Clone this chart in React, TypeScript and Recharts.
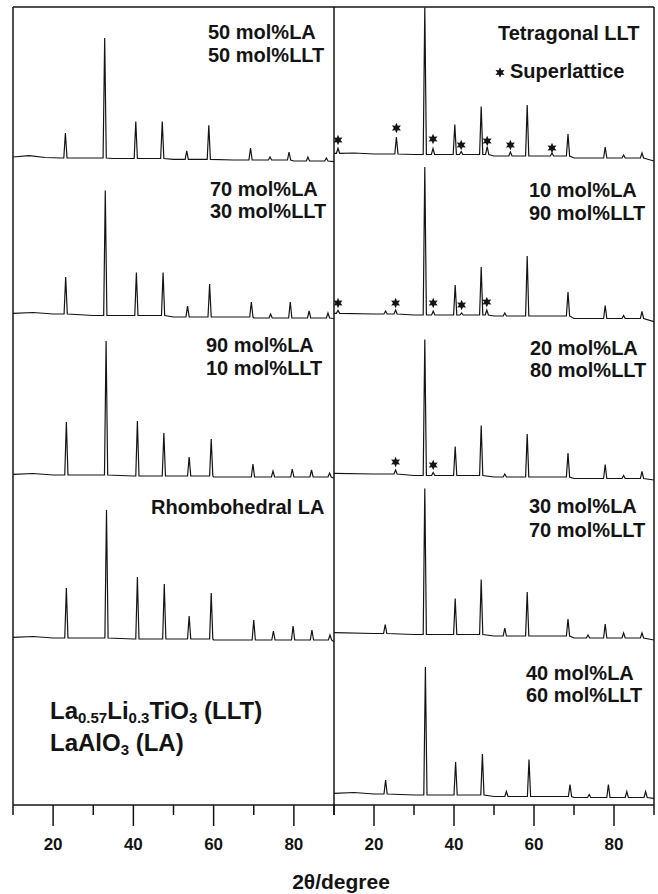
import { ComposedChart, Line, ReferenceLine, Scatter, XAxis, YAxis } from "recharts";

// 2θ range and tick marks (major ticks carry labels)
const X_DOMAIN: [number, number] = [10, 90];
const X_TICKS = [10, 20, 30, 40, 50, 60, 70, 80, 90];
const Y_DOMAIN: [number, number] = [0, 798];

// left column: LA-rich samples, offset of each trace (a.u.)
const LEFT_OFFSETS = [646, 489, 329, 166];

const base5050 = [[10, 2], [14, 3.3], [18, 1.5], [22, 1], [35, 0.5], [50, -0.3], [65, -1], [80, -2], [90, -2.7]];
const peaks5050 = [[23.06, 25], [32.85, 120], [40.6, 37], [47.2, 37], [53.3, 8.5], [58.8, 34], [69.2, 12], [74.05, 3], [78.8, 8], [83.5, 4], [88.1, 3]];

const base7030 = [[10, 2.7], [15, 3.5], [20, 2], [30, 0.5], [50, -1], [70, -2], [90, -2.5]];
const peaks7030 = [[23.13, 37], [33.0, 125], [40.75, 43], [47.4, 43], [53.5, 11], [59.0, 33], [69.4, 15], [74.2, 4], [79.1, 16], [83.8, 7], [88.5, 5]];

const base9010 = [[10, 1.7], [15, 2.5], [20, 1], [40, 0], [60, -1], [90, -2.3]];
const peaks9010 = [[23.3, 53], [33.2, 134], [41.0, 55], [47.6, 43], [53.9, 19], [59.4, 37], [69.8, 13], [74.8, 6], [79.6, 8], [84.4, 7], [88.9, 4]];

const baseLA = [[10, 1.7], [15, 2.5], [20, 1], [40, 0], [60, -1], [90, -2.7]];
const peaksLA = [[23.3, 50], [33.3, 128], [41.0, 62], [47.7, 55], [53.9, 23], [59.4, 46], [70.0, 20], [74.9, 9], [79.8, 14], [84.5, 10], [89.0, 5]];

// right column: LLT-rich samples
const RIGHT_OFFSETS = [650, 490, 329, 170, 9];

const baseLLT = [[10, 1.7], [15, 2], [20, 1], [30, 0.5], [50, -1], [70, -3], [90, -6]];
const peaksLLT = [[11.0, 5], [25.6, 17], [32.7, 147], [34.75, 6], [40.2, 30], [41.8, 3], [46.8, 48], [48.3, 8], [54.1, 4], [58.3, 51], [64.5, 3], [68.5, 22], [77.8, 11], [82.4, 3], [87.0, 5]];
const starsLLT = [[11.0, 15], [25.6, 27], [34.75, 16], [41.8, 10], [48.3, 14], [54.1, 10], [64.5, 7]];

const base1090 = [[10, 1.7], [20, 1], [30, 0], [50, -1], [70, -3.5], [90, -6.7]];
const peaks1090 = [[11.0, 3], [22.9, 3], [25.4, 4], [32.7, 148], [34.8, 4], [40.3, 30], [41.9, 2], [46.8, 48], [48.2, 5], [52.7, 3], [58.3, 60], [68.5, 24], [77.8, 13], [82.4, 3], [87.0, 7]];
const stars1090 = [[11.0, 12], [25.4, 12], [34.8, 12], [41.9, 10], [48.2, 13]];

const base2080 = [[10, 2.7], [20, 2], [30, 0.5], [50, -1], [70, -2.5], [90, -4]];
const peaks2080 = [[25.4, 4], [32.7, 136], [34.8, 3], [40.3, 29], [46.8, 50], [52.7, 3], [58.3, 43], [68.5, 24], [77.8, 14], [82.4, 3], [87.0, 7]];
const stars2080 = [[25.4, 14], [34.8, 11]];

const base3070 = [[10, 2.3], [20, 1.5], [30, 0.5], [50, -1], [70, -3], [90, -5]];
const peaks3070 = [[22.8, 9], [32.7, 146], [40.3, 36], [46.8, 55], [52.7, 8], [58.3, 44], [68.5, 17], [73.5, 3], [77.8, 14], [82.4, 5], [87.0, 5]];

const base4060 = [[10, 2.7], [15, 3.5], [20, 2], [30, 1], [50, -0.5], [70, -1.5], [90, -2.3]];
const peaks4060 = [[22.9, 14], [32.85, 128], [40.4, 33], [47.1, 41], [53.1, 5], [58.75, 37], [69.0, 12], [73.8, 3], [78.6, 13], [83.2, 6], [87.9, 6]];

const INK = "#141414";
const FONT = "'Liberation Sans', Arial, sans-serif";
const PEAK_HALF_WIDTH = 0.4;

type Pt = { x: number; y: number };

function levelAt(base: number[][], x: number) {
  let lv = base[0][1];
  for (const [bx, by] of base) if (bx <= x) lv = by;
  return lv;
}

function buildTrace(offset: number, base: number[][], peaks: number[][]): Pt[] {
  const pts: Pt[] = base.map(([x, y]) => ({ x, y: offset + y }));
  for (const [c, h] of peaks) {
    const foot = offset + levelAt(base, c);
    pts.push({ x: c - PEAK_HALF_WIDTH, y: foot }, { x: c, y: foot + h }, { x: c + PEAK_HALF_WIDTH, y: foot });
  }
  return pts.sort((a, b) => a.x - b.x);
}

function buildStars(offset: number, stars: number[][]): Pt[] {
  return stars.map(([x, y]) => ({ x, y: offset + y }));
}

const leftTraces = [
  buildTrace(LEFT_OFFSETS[0], base5050, peaks5050),
  buildTrace(LEFT_OFFSETS[1], base7030, peaks7030),
  buildTrace(LEFT_OFFSETS[2], base9010, peaks9010),
  buildTrace(LEFT_OFFSETS[3], baseLA, peaksLA),
];

const rightTraces = [
  buildTrace(RIGHT_OFFSETS[0], baseLLT, peaksLLT),
  buildTrace(RIGHT_OFFSETS[1], base1090, peaks1090),
  buildTrace(RIGHT_OFFSETS[2], base2080, peaks2080),
  buildTrace(RIGHT_OFFSETS[3], base3070, peaks3070),
  buildTrace(RIGHT_OFFSETS[4], base4060, peaks4060),
];

const starPoints = [
  ...buildStars(RIGHT_OFFSETS[0], starsLLT),
  ...buildStars(RIGHT_OFFSETS[1], stars1090),
  ...buildStars(RIGHT_OFFSETS[2], stars2080),
];

function starPath(cx: number, cy: number, R = 5.2, r = 2.6) {
  const pts: string[] = [];
  for (let i = 0; i < 12; i++) {
    const a = ((-90 + i * 30) * Math.PI) / 180;
    const rad = i % 2 === 0 ? R : r;
    pts.push(`${cx + rad * Math.cos(a)},${cy + rad * Math.sin(a)}`);
  }
  return pts.join(" ");
}

function StarShape(props: any) {
  return <polygon points={starPath(props.cx, props.cy)} fill={INK} />;
}

function AxisTick(props: any) {
  const { x, y, payload } = props;
  const v = payload.value;
  const major = v % 20 === 0;
  return (
    <g>
      <line x1={x} x2={x} y1={y} y2={y + (major ? 21 : 10)} stroke={INK} strokeWidth={1.5} />
      {major && (
        <text x={x} y={y + 45} textAnchor="middle" fontFamily={FONT} fontWeight="bold" fontSize={17} fill={INK}>
          {v}
        </text>
      )}
    </g>
  );
}

const frame = { stroke: INK, strokeWidth: 1.5, ifOverflow: "visible" as const };

function Column({ traces, stars, width, marginRight, leftLine }: { traces: Pt[][]; stars?: Pt[]; width: number; marginRight: number; leftLine: boolean }) {
  return (
    <ComposedChart width={width} height={894} margin={{ top: 7, right: marginRight, bottom: 0, left: 13 }}>
      <XAxis
        dataKey="x"
        type="number"
        domain={X_DOMAIN}
        ticks={X_TICKS}
        interval={0}
        allowDataOverflow
        height={89}
        tickSize={0}
        tickMargin={0}
        tickLine={false}
        tick={<AxisTick />}
        axisLine={{ stroke: INK, strokeWidth: 1.5 }}
      />
      <YAxis type="number" domain={Y_DOMAIN} allowDataOverflow hide />
      {traces.map((t, i) => (
        <Line
          key={i}
          data={t}
          dataKey="y"
          type="linear"
          stroke={INK}
          strokeWidth={1.2}
          dot={false}
          isAnimationActive={false}
        />
      ))}
      {stars && <Scatter data={stars} dataKey="y" shape={<StarShape />} isAnimationActive={false} />}
      {leftLine && <ReferenceLine x={X_DOMAIN[0]} {...frame} />}
      <ReferenceLine x={X_DOMAIN[1]} {...frame} />
      <ReferenceLine y={Y_DOMAIN[1]} {...frame} />
    </ComposedChart>
  );
}

const textStyle = { fontFamily: FONT, fontWeight: "bold" as const, fill: INK };

export default function App() {
  return (
    <div style={{ position: "absolute", left: 0, top: 0, width: 658, height: 894, background: "#fff" }}>
      <div style={{ position: "absolute", left: 0, top: 0 }}>
        <Column traces={leftTraces} width={335} marginRight={1} leftLine />
      </div>
      <div style={{ position: "absolute", left: 321, top: 0 }}>
        <Column traces={rightTraces} stars={starPoints} width={337} marginRight={4} leftLine={false} />
      </div>
      <svg width={658} height={894} style={{ position: "absolute", left: 0, top: 0, pointerEvents: "none" }}>
        <g {...textStyle} fontSize={20}>
          <text x={208} y={39}>50 mol%LA</text>
          <text x={208} y={62}>50 mol%LLT</text>
          <text x={210} y={196}>70 mol%LA</text>
          <text x={210} y={218}>30 mol%LLT</text>
          <text x={206} y={352}>90 mol%LA</text>
          <text x={206} y={375}>10 mol%LLT</text>
          <text x={151} y={514}>Rhombohedral LA</text>

          <text x={498} y={40}>Tetragonal LLT</text>
          <text x={510} y={78}>Superlattice</text>
          <text x={529} y={197}>10 mol%LA</text>
          <text x={529} y={220}>90 mol%LLT</text>
          <text x={530} y={355}>20 mol%LA</text>
          <text x={530} y={377}>80 mol%LLT</text>
          <text x={529} y={513}>30 mol%LA</text>
          <text x={529} y={537}>70 mol%LLT</text>
          <text x={526} y={680}>40 mol%LA</text>
          <text x={526} y={702}>60 mol%LLT</text>
        </g>
        <polygon points={starPath(500, 72.5)} fill={INK} />
        <g {...textStyle} fontSize={24}>
          <text x={50} y={719}>
            La<tspan fontSize={15} dy={4}>0.57</tspan>
            <tspan dy={-4}>Li</tspan>
            <tspan fontSize={15} dy={4}>0.3</tspan>
            <tspan dy={-4}>TiO</tspan>
            <tspan fontSize={15} dy={4}>3</tspan>
            <tspan dy={-4}> (LLT)</tspan>
          </text>
          <text x={50} y={751}>
            LaAlO<tspan fontSize={15} dy={4}>3</tspan>
            <tspan dy={-4}> (LA)</tspan>
          </text>
        </g>
        <text x={341} y={889} textAnchor="middle" {...textStyle} fontSize={21}>
          2θ/degree
        </text>
      </svg>
    </div>
  );
}
